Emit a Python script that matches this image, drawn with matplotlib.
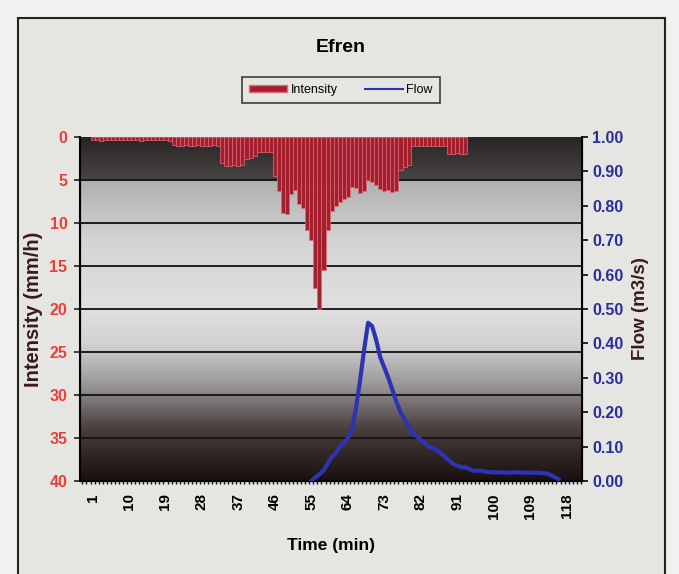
import numpy as np
import matplotlib
matplotlib.use("Agg")
import matplotlib.pyplot as plt
from matplotlib.colors import LinearSegmentedColormap
from matplotlib.patches import Rectangle, Patch
from matplotlib.lines import Line2D

plt.rcParams["font.family"] = ["Liberation Sans Narrow", "Liberation Sans", "DejaVu Sans"]
plt.rcParams["font.weight"] = "bold"

# time categories (min)
x_range = (-2.1, 121.8)
tick_minutes = list(range(1, 119, 9))

# rainfall intensity (mm/h), minutes 1..93
intensity_min = list(range(1, 94))
intensity = [
    0.4, 0.4, 0.5, 0.4, 0.4, 0.3, 0.4, 0.4, 0.4, 0.3,
    0.4, 0.4, 0.5, 0.4, 0.4, 0.4, 0.3, 0.4, 0.4, 0.5,
    0.9, 1.0, 1.0, 0.9, 1.0, 1.0, 0.9, 1.0, 1.0, 1.0, 0.9, 1.0,
    3.0, 3.4, 3.4, 3.3, 3.4, 3.2,
    2.5, 2.4, 2.2,
    1.8, 1.8, 1.7, 1.8,
    4.5, 6.3, 8.8, 9.0, 6.6, 6.2, 7.8, 8.2, 10.8, 12.0,
    17.5, 20.0, 15.5, 10.8, 8.6, 8.0, 7.5, 7.2, 7.0,
    5.8, 5.9, 6.5, 6.3, 5.0, 5.2, 5.6, 6.0, 6.3, 6.2, 6.4, 6.3, 3.8, 3.5, 3.2,
    1.0, 1.1, 1.0, 1.0, 1.1, 1.0, 1.0, 1.1, 1.0,
    2.0, 2.0, 1.9, 2.0, 2.0,
]

# flow (m3/s), minutes 55..116
flow_min = list(range(55, 117))
flow = [
    0.00, 0.01, 0.02, 0.03, 0.05, 0.07, 0.08, 0.10, 0.11, 0.125,
    0.15, 0.21, 0.29, 0.38, 0.46, 0.45, 0.41, 0.36, 0.33, 0.30,
    0.265, 0.23, 0.20, 0.18, 0.16, 0.14, 0.13, 0.12, 0.11, 0.10,
    0.095, 0.09, 0.08, 0.07, 0.06, 0.05, 0.045, 0.04, 0.04, 0.035,
    0.03, 0.03, 0.03, 0.027, 0.026, 0.025, 0.025, 0.025, 0.025, 0.024,
    0.025, 0.025, 0.025, 0.024, 0.024, 0.024, 0.024, 0.023, 0.022, 0.018,
    0.012, 0.005,
]

RED = "#e8403a"
BLUE = "#2c34b4"
BAR = "#a31f2e"
LABEL = "#3a1a1a"

fig = plt.figure(figsize=(6.79, 5.74), dpi=100)
fig.patch.set_facecolor("#f1f1ef")
fig.add_artist(Rectangle((18 / 679, -0.02), (665 - 18) / 679, 1 - 18 / 574 + 0.02,
                         transform=fig.transFigure, facecolor="#e5e5e1",
                         edgecolor="#222222", linewidth=1.5, zorder=-10))

ax = fig.add_axes([80 / 679, 1 - 481 / 574, (582 - 80) / 679, (481 - 137) / 574])
ax.set_zorder(1)

# plot area gradient background
stops = [(0.0, "#2a2525"), (0.12, "#4a4545"), (0.126, "#b0b0b0"), (0.3, "#d4d4d4"),
         (0.5, "#e0e0e0"), (0.6, "#d2d2d2"), (0.72, "#9a9898"), (0.85, "#4a3e3e"),
         (1.0, "#1a1010")]
cmap = LinearSegmentedColormap.from_list("bg", stops)
grad = np.linspace(0, 1, 400).reshape(-1, 1)
ax.imshow(grad, aspect="auto", cmap=cmap, extent=(x_range[0], x_range[1], 40, 0),
          origin="upper", zorder=0)

for yv in range(5, 40, 5):
    ax.axhline(yv, color="#111111", lw=1.3, zorder=1)

ax.bar(intensity_min, intensity, width=1.0, color=BAR, edgecolor="#de6c7a",
       linewidth=0.5, zorder=2)

ax.set_xlim(*x_range)
ax.set_ylim(40, 0)
ax.set_yticks(range(0, 41, 5))
ax.tick_params(axis="y", colors="#222222", labelcolor=RED, labelsize=11.5, length=4,
               width=1.2, pad=5)
for lab in ax.get_yticklabels():
    lab.set_fontweight("bold")
ax.set_xticks(tick_minutes)
ax.set_xticklabels([str(t) for t in tick_minutes], rotation=90, fontsize=11,
                   fontweight="bold")
ax.set_xticks(np.arange(x_range[0] + 0.6, x_range[1], 1), minor=True)
ax.tick_params(axis="x", which="major", length=0, pad=9)
ax.tick_params(axis="x", which="minor", length=5, width=1.0, color="#111111",
               direction="inout")
ax.spines["top"].set_visible(False)
ax.spines["left"].set_linewidth(1.5)
ax.spines["bottom"].set_linewidth(1.5)
ax.set_ylabel("Intensity (mm/h)", fontsize=14.5, fontweight="bold", color=LABEL,
              labelpad=5)
ax.set_xlabel("Time (min)", fontsize=12.5, fontweight="bold", labelpad=14)

ax2 = ax.twinx()
ax2.plot(flow_min, flow, color=BLUE, lw=3.0, solid_joinstyle="round")
ax2.set_ylim(0, 1.0)
ax2.set_yticks(np.arange(0, 1.01, 0.1))
ax2.set_yticklabels(["%.2f" % v for v in np.arange(0, 1.01, 0.1)], fontweight="bold")
ax2.tick_params(axis="y", labelcolor="#2b2f9a", labelsize=11.5, length=4, width=1.2)
ax2.spines["right"].set_linewidth(1.5)
ax2.spines["top"].set_visible(False)
ax2.set_ylabel("Flow (m3/s)", fontsize=13.5, fontweight="bold", color=LABEL,
               labelpad=6)

fig.text(341 / 679, 1 - 48 / 574, "Efren", ha="center", va="center", fontsize=14,
         fontweight="bold")

handles = [Patch(facecolor=BAR, edgecolor="#de6c7a"),
           Line2D([0], [0], color=BLUE, lw=1.5)]
leg = fig.legend(handles, ["Intensity", "Flow"], loc="center",
                 bbox_to_anchor=(341 / 679, 1 - 90 / 574), ncol=2, frameon=True,
                 fontsize=9, fancybox=False, handlelength=3.0, handleheight=0.45,
                 handletextpad=0.3, columnspacing=2.2, borderpad=0.55)
leg.get_frame().set_edgecolor("#111111")
leg.get_frame().set_linewidth(1.2)
leg.get_frame().set_facecolor("#e5e5e1")
for t in leg.get_texts():
    t.set_fontweight("normal")

fig.savefig("out.png", dpi=100, facecolor=fig.get_facecolor())
